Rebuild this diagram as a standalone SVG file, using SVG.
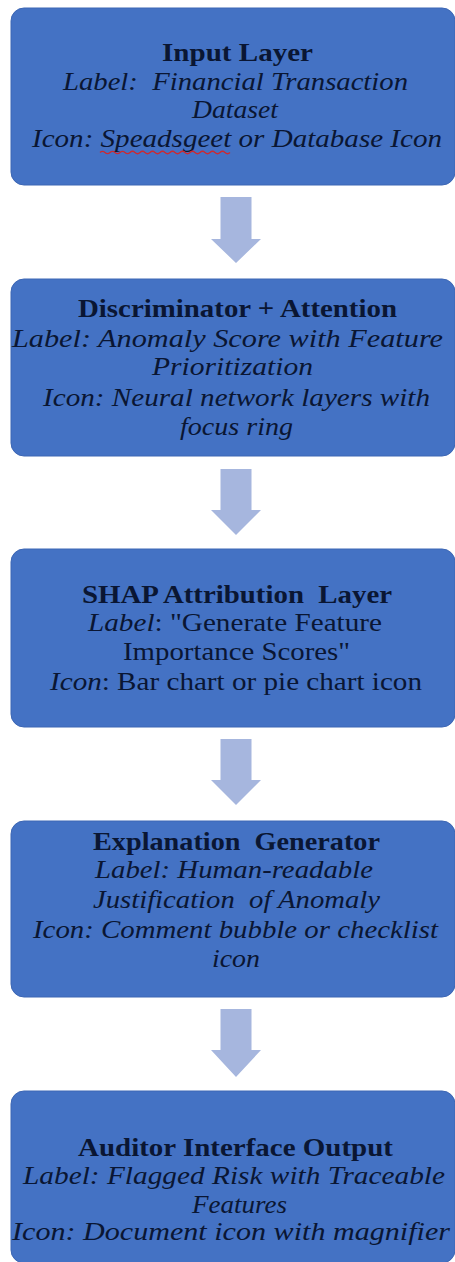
<svg xmlns="http://www.w3.org/2000/svg" width="455" height="1262" viewBox="0 0 455 1262">
<style>
.box{fill:#4472C4;stroke:#3C66B4;stroke-width:1}
.arrow{fill:#A6B6DE}
text{font-family:"Liberation Serif","Times New Roman",serif;font-size:25px;fill:#0A1633;text-anchor:middle}
.t{font-weight:bold;font-size:26px}
.i{font-style:italic}
.r{font-style:normal}
</style>
<rect width="455" height="1262" fill="#FFFFFF"/>
<g id="connectors">
<polygon class="arrow" points="220.5,197 251.5,197 251.5,239 261,239 236,263 211,239 220.5,239"/>
<polygon class="arrow" points="220.5,469 251.5,469 251.5,510 261,510 236,535 211,510 220.5,510"/>
<polygon class="arrow" points="220.5,739 251.5,739 251.5,780 261,780 236,805 211,780 220.5,780"/>
<polygon class="arrow" points="220.5,1009 251.5,1009 251.5,1050 261,1050 236,1077 211,1050 220.5,1050"/>
</g>
<g id="node-input">
<rect class="box" x="11" y="8" width="444" height="177" rx="13"/>
<text class="t" x="237.5" y="61" textLength="151" lengthAdjust="spacingAndGlyphs">Input Layer</text>
<text class="i" x="235.5" y="90" textLength="345" lengthAdjust="spacingAndGlyphs" xml:space="preserve">Label:  Financial Transaction</text>
<text class="i" x="235" y="118" textLength="86" lengthAdjust="spacingAndGlyphs">Dataset</text>
<text class="i" x="237" y="147" textLength="410" lengthAdjust="spacingAndGlyphs">Icon: Speadsgeet or Database Icon</text>
<path d="M100,152.5 q2.5,-2.5 5,0 t5,0 t5,0 t5,0 t5,0 t5,0 t5,0 t5,0 t5,0 t5,0 t5,0 t5,0 t5,0 t5,0 t5,0 t5,0 t5,0 t5,0 t5,0 t5,0 t5,0 t5,0 t5,0 t5,0 t5,0 t5,0" fill="none" stroke="#D0282E" stroke-width="1.2"/>
</g>
<g id="node-discriminator">
<rect class="box" x="11" y="279" width="444" height="177" rx="13"/>
<text class="t" x="237.5" y="317" textLength="319" lengthAdjust="spacingAndGlyphs">Discriminator + Attention</text>
<text class="i" x="227.5" y="347" textLength="431" lengthAdjust="spacingAndGlyphs">Label: Anomaly Score with Feature</text>
<text class="i" x="232.5" y="375" textLength="161" lengthAdjust="spacingAndGlyphs">Prioritization</text>
<text class="i" x="236.5" y="406" textLength="387" lengthAdjust="spacingAndGlyphs">Icon: Neural network layers with</text>
<text class="i" x="236.5" y="435" textLength="113" lengthAdjust="spacingAndGlyphs">focus ring</text>
</g>
<g id="node-shap">
<rect class="box" x="11" y="549" width="444" height="178" rx="13"/>
<text class="t" x="237" y="603" textLength="310" lengthAdjust="spacingAndGlyphs" xml:space="preserve">SHAP Attribution  Layer</text>
<text x="235" y="631" textLength="294" lengthAdjust="spacingAndGlyphs"><tspan class="i">Label</tspan>: "Generate Feature</text>
<text x="236.5" y="660" textLength="227" lengthAdjust="spacingAndGlyphs">Importance Scores"</text>
<text x="236" y="690" textLength="372" lengthAdjust="spacingAndGlyphs"><tspan class="i">Icon</tspan>: Bar chart or pie chart icon</text>
</g>
<g id="node-explanation">
<rect class="box" x="11" y="821" width="444" height="176" rx="13"/>
<text class="t" x="236.5" y="850" textLength="287" lengthAdjust="spacingAndGlyphs" xml:space="preserve">Explanation  Generator</text>
<text class="i" x="234" y="878" textLength="278" lengthAdjust="spacingAndGlyphs">Label: Human-readable</text>
<text class="i" x="236.5" y="908" textLength="287" lengthAdjust="spacingAndGlyphs" xml:space="preserve">Justification  of Anomaly</text>
<text class="i" x="235.5" y="938" textLength="405" lengthAdjust="spacingAndGlyphs">Icon: Comment bubble or checklist</text>
<text class="i" x="236" y="967" textLength="48" lengthAdjust="spacingAndGlyphs">icon</text>
</g>
<g id="node-auditor">
<rect class="box" x="11" y="1091" width="444" height="172" rx="13"/>
<text class="t" x="235.5" y="1156" textLength="315" lengthAdjust="spacingAndGlyphs">Auditor Interface Output</text>
<text class="i" x="234" y="1184" textLength="422" lengthAdjust="spacingAndGlyphs">Label: Flagged Risk with Traceable</text>
<text class="i" x="239.5" y="1213" textLength="95" lengthAdjust="spacingAndGlyphs">Features</text>
<text class="i" x="231" y="1240" textLength="438" lengthAdjust="spacingAndGlyphs">Icon: Document icon with magnifier</text>
</g>
</svg>
